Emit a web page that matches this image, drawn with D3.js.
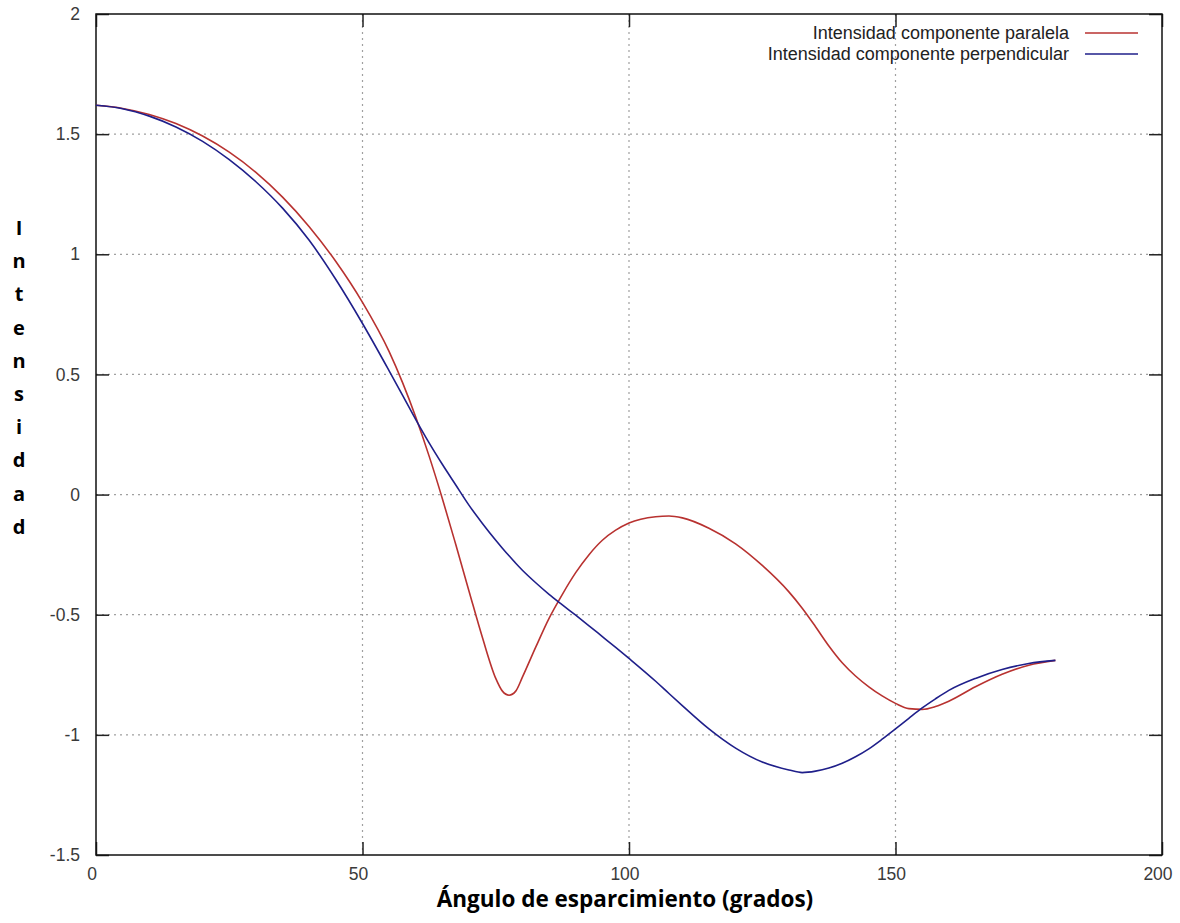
<!DOCTYPE html>
<html>
<head>
<meta charset="utf-8">
<script src="https://cdn.jsdelivr.net/npm/d3@7"></script>
<style>
	html, body { margin: 0; padding: 0; background: #fff; }
	svg { display: block; }
	.tick-label { font-family: "Liberation Sans", Arial, sans-serif; font-size: 17.5px; fill: #3a3a3a; }
	.legend-label { font-family: "Liberation Sans", Arial, sans-serif; font-size: 18px; fill: #222; }
	.axis-title { font-family: "Open Sans", "Noto Sans", sans-serif; font-weight: bold; fill: #000; }
</style>
</head>
<body>
<div id="chart"></div>
<script>
// angle (degrees) and intensities
const angles = [0, 5, 10, 15, 20, 25, 30, 35, 40, 45, 50, 55, 57.5, 60, 62.5, 65, 67.5, 70, 72.5, 75, 76.25, 77.5, 78.75, 80, 82.5, 85, 87.5, 90, 92.5, 95, 97.5, 100, 105, 107.5, 110, 115, 120, 125, 130, 132.5, 135, 137.5, 140, 142.5, 145, 147.5, 150, 152.5, 155, 157.5, 160, 165, 170, 175, 180];
const paralela = [1.62, 1.607, 1.582, 1.544, 1.492, 1.425, 1.341, 1.238, 1.115, 0.97, 0.80, 0.595, 0.467, 0.322, 0.16, -0.018, -0.208, -0.403, -0.595, -0.765, -0.818, -0.835, -0.818, -0.76, -0.635, -0.515, -0.415, -0.325, -0.25, -0.19, -0.148, -0.118, -0.092, -0.089, -0.097, -0.14, -0.205, -0.295, -0.405, -0.473, -0.55, -0.63, -0.70, -0.755, -0.80, -0.838, -0.869, -0.891, -0.894, -0.882, -0.86, -0.80, -0.748, -0.71, -0.69];
const perpendicular = [1.62, 1.606, 1.575, 1.53, 1.47, 1.394, 1.302, 1.192, 1.058, 0.895, 0.712, 0.515, 0.414, 0.312, 0.215, 0.125, 0.04, -0.045, -0.12, -0.19, -0.223, -0.255, -0.286, -0.315, -0.367, -0.415, -0.459, -0.502, -0.546, -0.591, -0.636, -0.682, -0.777, -0.828, -0.878, -0.975, -1.055, -1.113, -1.146, -1.157, -1.151, -1.138, -1.118, -1.091, -1.058, -1.018, -0.975, -0.931, -0.888, -0.85, -0.815, -0.765, -0.728, -0.703, -0.69];

const seriesNames = ["Intensidad componente paralela", "Intensidad componente perpendicular"];
const seriesColors = ["#b83230", "#1f1f8a"];
const xTicks = [0, 50, 100, 150, 200];
const yTicks = [-1.5, -1, -0.5, 0, 0.5, 1, 1.5, 2];
const yTitle = "Intensidad";
const xTitle = "Ángulo de esparcimiento (grados)";

const width = 1180, height = 923;
const plot = {left: 96, right: 1162, top: 14, bottom: 855};

const svg = d3.select("#chart").append("svg")
	.attr("width", width)
	.attr("height", height);

const x = d3.scaleLinear().domain([0, 200]).range([plot.left, plot.right]);
const y = d3.scaleLinear().domain([-1.5, 2]).range([plot.bottom, plot.top]);

// grid
const grid = svg.append("g").attr("stroke", "#a0a0a0").attr("stroke-width", 1.2).attr("stroke-dasharray", "2,4");
grid.selectAll("line.gx")
	.data(xTicks.filter(t => t > 0 && t < 200)).enter()
	.append("line")
	.attr("x1", d => x(d)).attr("x2", d => x(d))
	.attr("y1", plot.top).attr("y2", plot.bottom);
grid.selectAll("line.gy")
	.data(yTicks.filter(t => t > -1.5 && t < 2)).enter()
	.append("line")
	.attr("x1", plot.left).attr("x2", plot.right)
	.attr("y1", d => y(d)).attr("y2", d => y(d));

// axes, ticks pointing inward and mirrored
const tickLen = 13;
const axisLeft = svg.append("g").attr("transform", `translate(${plot.left},0)`)
	.call(d3.axisRight(y).tickValues(yTicks).tickSize(tickLen).tickFormat(""));
const axisRightG = svg.append("g").attr("transform", `translate(${plot.right},0)`)
	.call(d3.axisLeft(y).tickValues(yTicks).tickSize(tickLen).tickFormat(""));
const axisBottom = svg.append("g").attr("transform", `translate(0,${plot.bottom})`)
	.call(d3.axisTop(x).tickValues(xTicks).tickSize(tickLen).tickFormat(""));
const axisTopG = svg.append("g").attr("transform", `translate(0,${plot.top})`)
	.call(d3.axisBottom(x).tickValues(xTicks).tickSize(tickLen).tickFormat(""));
[axisLeft, axisRightG, axisBottom, axisTopG].forEach(g => {
	g.select(".domain").remove();
	g.selectAll(".tick line").attr("stroke", "#222").attr("stroke-width", 1.5);
});

// tick labels
svg.append("g").selectAll("text")
	.data(yTicks).enter()
	.append("text")
	.attr("class", "tick-label")
	.attr("x", plot.left - 16)
	.attr("y", d => y(d))
	.attr("dy", "0.35em")
	.attr("text-anchor", "end")
	.text(d => d);
svg.append("g").selectAll("text")
	.data(xTicks).enter()
	.append("text")
	.attr("class", "tick-label")
	.attr("x", d => x(d) - 4)
	.attr("y", plot.bottom + 19)
	.attr("dy", "0.35em")
	.attr("text-anchor", "middle")
	.text(d => d);

// frame
svg.append("rect")
	.attr("x", plot.left).attr("y", plot.top)
	.attr("width", plot.right - plot.left).attr("height", plot.bottom - plot.top)
	.attr("fill", "none").attr("stroke", "#111").attr("stroke-width", 1.5);

// curves
const series = [paralela, perpendicular];
const line = d3.line()
	.x(d => x(d[0]))
	.y(d => y(d[1]))
	.curve(d3.curveMonotoneX);
svg.append("g").selectAll("path")
	.data(series).enter()
	.append("path")
	.attr("d", vals => line(angles.map((a, i) => [a, vals[i]])))
	.attr("fill", "none")
	.attr("stroke", (d, i) => seriesColors[i])
	.attr("stroke-width", 1.6);

// legend
const legend = svg.append("g").selectAll("g")
	.data(seriesNames).enter()
	.append("g")
	.attr("transform", (d, i) => `translate(0,${33 + i * 21})`);
legend.append("text")
	.attr("class", "legend-label")
	.attr("x", 1069)
	.attr("dy", "0.35em")
	.attr("text-anchor", "end")
	.text(d => d);
legend.append("line")
	.attr("x1", 1085).attr("x2", 1138)
	.attr("stroke", (d, i) => seriesColors[i])
	.attr("stroke-width", 1.6);

// axis titles
svg.append("text")
	.attr("class", "axis-title")
	.attr("x", 625)
	.attr("y", 907)
	.attr("text-anchor", "middle")
	.style("font-size", "22.5px")
	.text(xTitle);
svg.append("g").selectAll("text")
	.data(yTitle.split("")).enter()
	.append("text")
	.attr("class", "axis-title")
	.attr("x", 19)
	.attr("y", (d, i) => 235 + i * 33.2)
	.attr("text-anchor", "middle")
	.style("font-size", "20px")
	.text(d => d);
</script>
</body>
</html>
